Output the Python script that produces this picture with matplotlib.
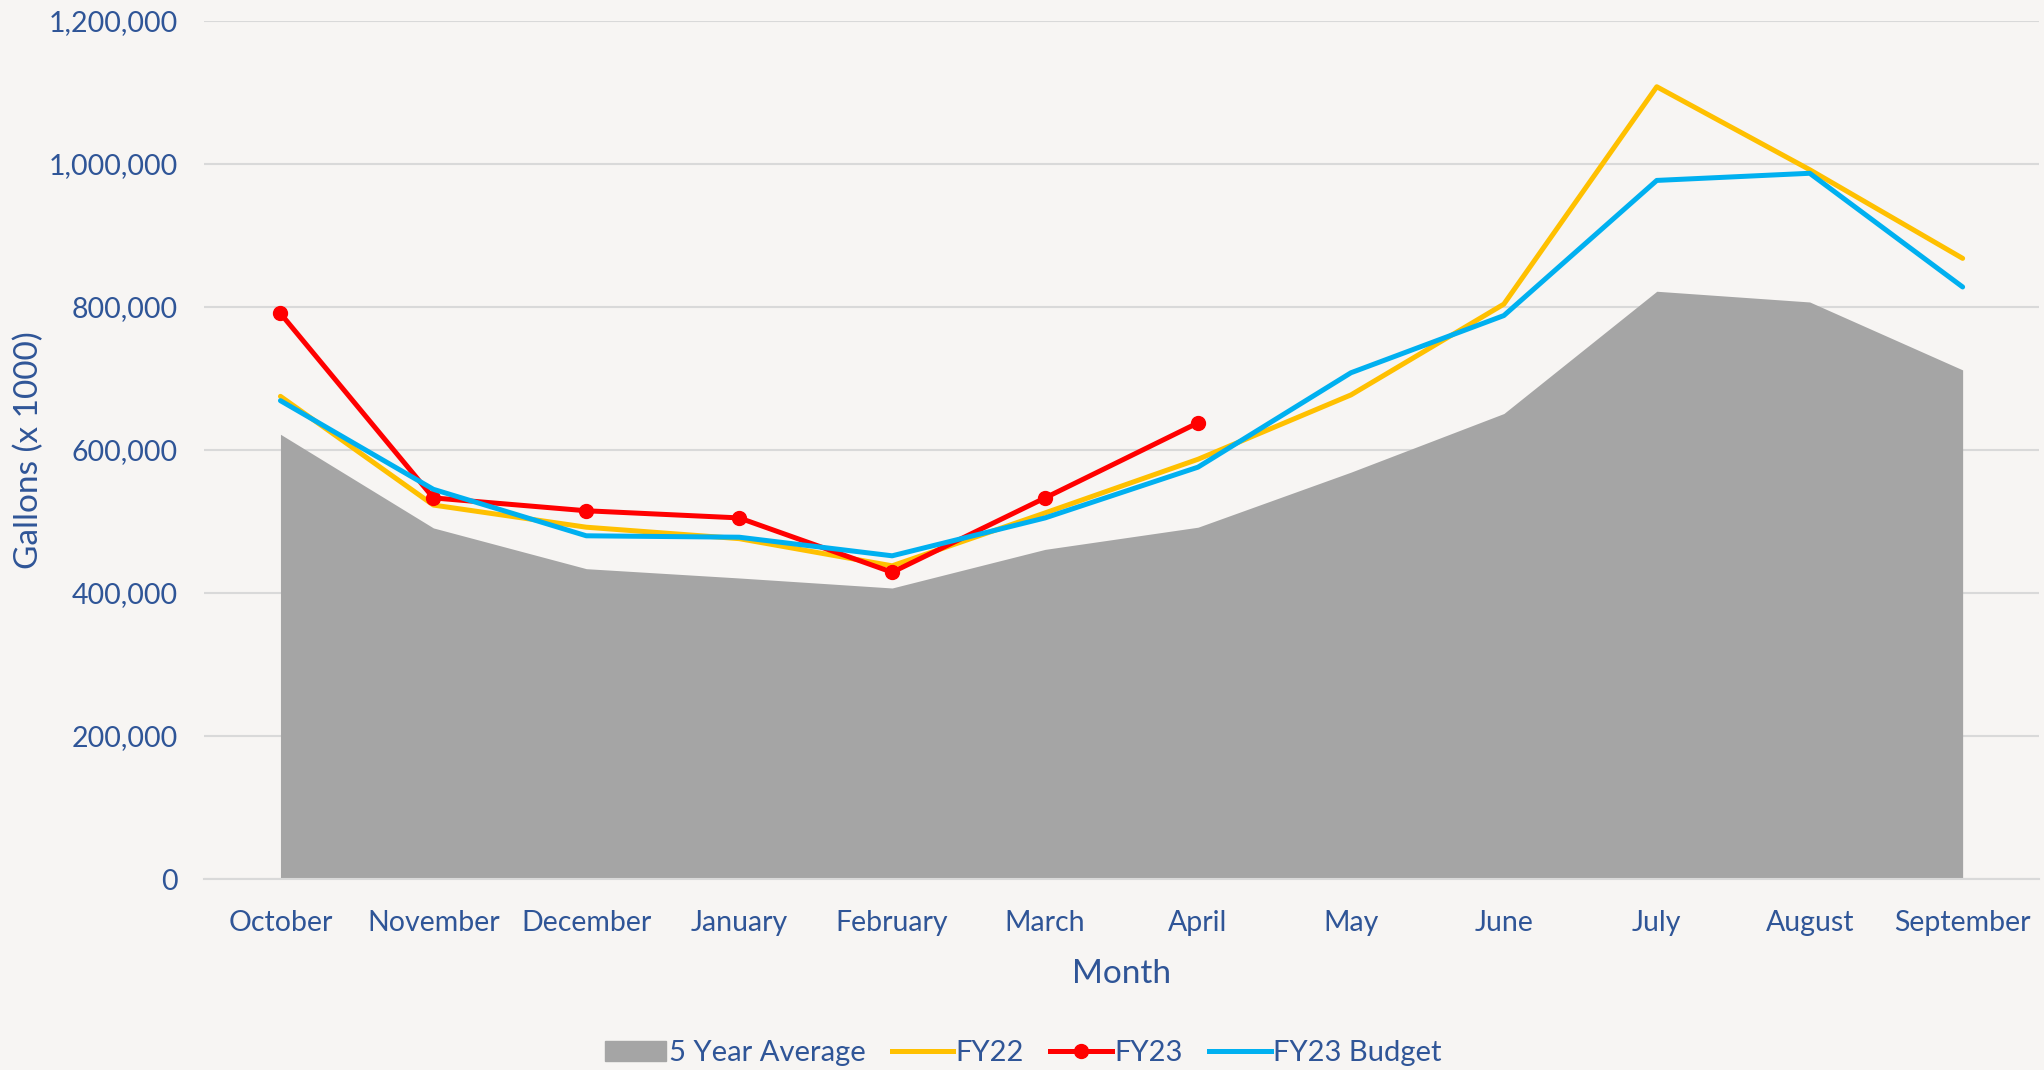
import numpy as np
import matplotlib.pyplot as plt
from matplotlib.ticker import FuncFormatter
from matplotlib.patches import Patch
from matplotlib.lines import Line2D

plt.rcParams['font.family'] = ['Lato', 'DejaVu Sans']

# =========================================================
# DATA
# =========================================================

months = ["October", "November", "December", "January", "February", "March",
          "April", "May", "June", "July", "August", "September"]

five_year_avg = [622000, 491000, 434000, 421000, 407000, 461000,
                 492000, 569000, 651000, 822000, 807000, 712000]

fy22 = [675000, 523000, 492000, 476000, 438000, 512000,
        587000, 677000, 804000, 1108000, 992000, 868000]

fy23 = [791000, 533000, 515000, 505000, 429000, 533000, 638000]

fy23_budget = [669000, 545000, 480000, 478000, 452000, 505000,
               576000, 708000, 788000, 977000, 987000, 828000]

yticks = [0, 200000, 400000, 600000, 800000, 1000000, 1200000]

# =========================================================
# STYLE
# =========================================================

BG = "#F7F5F3"
TEXT = "#2F5597"
GRAY = "#A5A5A5"
YELLOW = "#FFC000"
RED = "#FF0000"
BLUE = "#00B0F0"
GRID = "#D9D9D9"
LW = 3.6

# =========================================================
# PLOT
# =========================================================

fig = plt.figure(figsize=(20.44, 10.70), dpi=100, facecolor=BG)
ax = fig.add_axes([0.0998, 0.1785, 0.8978, 0.8019], facecolor=BG)

x = np.arange(len(months))

ax.fill_between(x, 0, five_year_avg, color=GRAY, linewidth=0, zorder=2)
ax.plot(x, fy22, color=YELLOW, linewidth=LW, solid_capstyle="round", zorder=3)
ax.plot(np.arange(len(fy23)), fy23, color=RED, linewidth=LW, marker="o",
        markersize=10, solid_capstyle="round", zorder=4)
ax.plot(x, fy23_budget, color=BLUE, linewidth=LW, solid_capstyle="round", zorder=5)

ax.set_xlim(-0.5, len(months) - 0.5)
ax.set_ylim(0, 1200000)
ax.set_yticks(yticks)
ax.yaxis.set_major_formatter(FuncFormatter(lambda v, p: f"{int(v):,}"))
ax.set_xticks(x)
ax.set_xticklabels(months)

ax.grid(axis="y", color=GRID, linewidth=1.5, zorder=1)
ax.set_axisbelow(True)
for s in ["top", "right", "left"]:
    ax.spines[s].set_visible(False)
ax.spines["bottom"].set_color(GRID)
ax.spines["bottom"].set_linewidth(1.5)

ax.tick_params(axis="both", length=0, labelsize=20.5, labelcolor=TEXT)
ax.tick_params(axis="x", pad=22)
ax.tick_params(axis="y", pad=19)

ax.set_xlabel("Month", fontsize=24, color=TEXT, labelpad=17)
fig.text(29 / 2044, 0.579, "Gallons (x 1000)", rotation=90, fontsize=24,
         color=TEXT, ha="center", va="center")

handles = [
    Patch(facecolor=GRAY, edgecolor=GRAY),
    Line2D([0], [0], color=YELLOW, linewidth=LW),
    Line2D([0], [0], color=RED, linewidth=LW, marker="o", markersize=10),
    Line2D([0], [0], color=BLUE, linewidth=LW),
]
leg = fig.legend(handles, ["5 Year Average", "FY22", "FY23", "FY23 Budget"],
                 loc="center", bbox_to_anchor=(0.5006, 0.0155), ncol=4,
                 frameon=False, fontsize=21, handlelength=2.1,
                 handletextpad=0.1, columnspacing=0.9)
for t in leg.get_texts():
    t.set_color(TEXT)

fig.savefig("out.png", dpi=100, facecolor=BG)
